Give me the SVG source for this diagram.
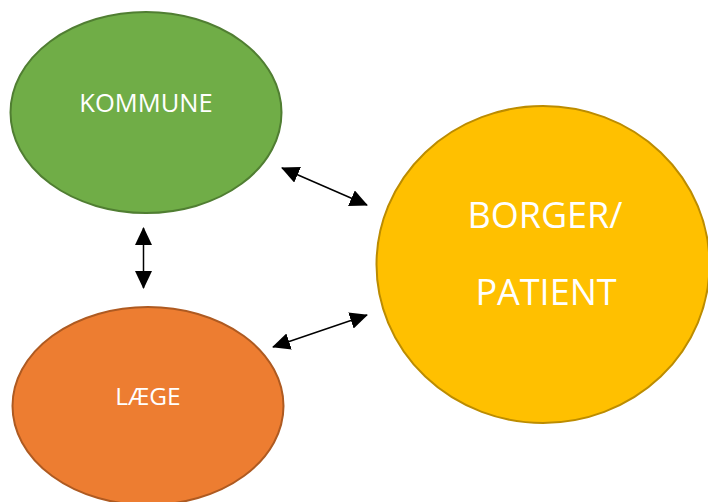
<svg xmlns="http://www.w3.org/2000/svg" width="708" height="502" viewBox="0 0 708 502">
<style>
.lbl{font-family:"Open Sans","Liberation Sans",sans-serif;fill:#ffffff;text-anchor:middle}
.conn{stroke:#000;stroke-width:1.5;fill:none;marker-start:url(#ah);marker-end:url(#ah)}
</style>
<defs>
<marker id="ah" markerUnits="userSpaceOnUse" markerWidth="18" markerHeight="17" refX="17" refY="8.5" orient="auto-start-reverse" viewBox="0 0 18 17">
<path d="M0,0 L18,8.5 L0,17 Z" fill="#000"/>
</marker>
</defs>
<rect width="708" height="502" fill="#fff"/>
<g id="kommune">
<ellipse cx="146" cy="112.5" rx="135.5" ry="100.5" fill="#70AD47" stroke="#507E32" stroke-width="2"/>
<text class="lbl" x="146" y="112" font-size="25.5">KOMMUNE</text>
</g>
<g id="laege">
<ellipse cx="148" cy="406" rx="135.5" ry="99" fill="#ED7D31" stroke="#AE5A21" stroke-width="2"/>
<text class="lbl" x="148" y="405" font-size="24.5">LÆGE</text>
</g>
<g id="borger">
<ellipse cx="543" cy="264.5" rx="166.5" ry="158.5" fill="#FFC000" stroke="#BC8C00" stroke-width="2"/>
<text class="lbl" x="545" y="228" font-size="36">BORGER/</text>
<text class="lbl" x="546" y="305" font-size="36">PATIENT</text>
</g>
<g id="connectors">
<line class="conn" x1="282" y1="168" x2="367" y2="205"/>
<line class="conn" x1="273" y1="347" x2="367" y2="315"/>
<line class="conn" x1="143.5" y1="228" x2="143.5" y2="288"/>
</g>
</svg>
